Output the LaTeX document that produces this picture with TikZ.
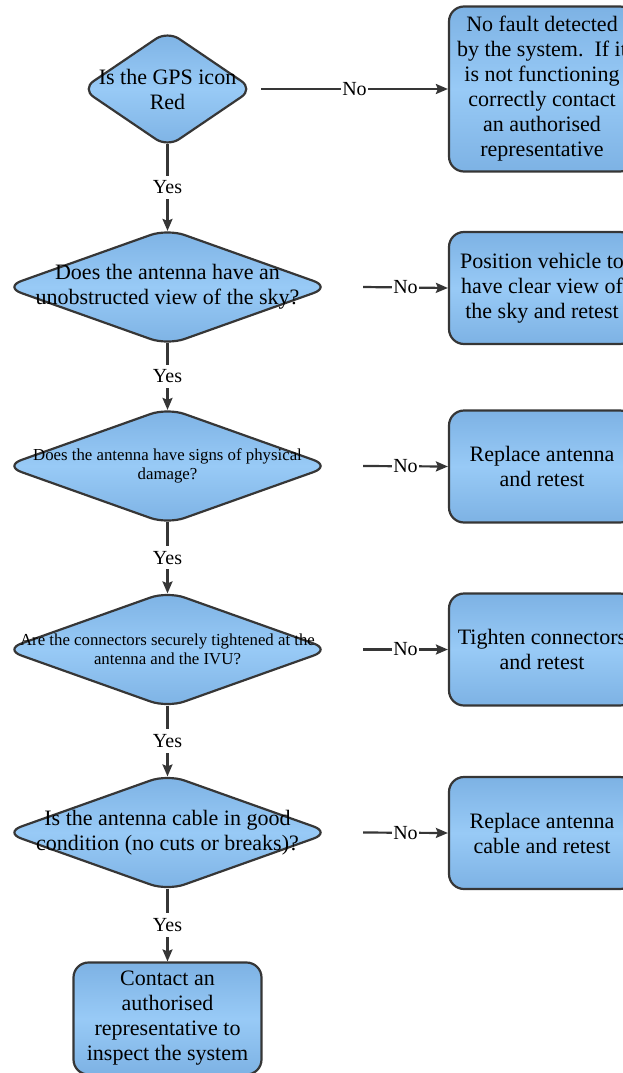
\documentclass[tikz,border=0pt]{standalone}
\usepackage{fontspec}
\setmainfont{Liberation Serif}
\usetikzlibrary{shapes.geometric,arrows.meta}
\definecolor{gpsedge}{HTML}{7DB2E4}
\definecolor{gpsmid}{HTML}{98CAF6}
\definecolor{gpsline}{HTML}{363636}
\begin{document}
\begin{tikzpicture}[
    x=1pt, y=-1pt,
    gps shape/.style={
        draw=gpsline,
        line width=2.2pt,
        top color=gpsedge,
        bottom color=gpsedge,
        middle color=gpsmid,
        inner sep=0pt
    },
    gps question/.style={
        gps shape,
        diamond,
        rounded corners=18pt,
        minimum width=327pt,
        minimum height=117pt
    },
    gps action/.style={
        gps shape,
        rounded corners=15pt,
        minimum width=186pt,
        minimum height=112pt,
        align=center,
        font=\fontsize{22}{25}\selectfont
    },
    gps text/.style={
        align=center,
        inner sep=0pt,
        font=\fontsize{22}{25}\selectfont
    },
    gps small/.style={
        gps text,
        font=\fontsize{16.8}{19}\selectfont
    },
    gps flow/.style={
        -{Stealth[length=12pt,width=10pt,inset=2pt]},
        line width=2.2pt,
        draw=gpsline
    },
    gps label/.style={
        fill=white,
        inner xsep=1.5pt,
        inner ysep=5pt,
        font=\fontsize{20}{24}\selectfont
    }
]
    \useasboundingbox (0,0) rectangle (623,1073);

    % Questions (diamonds)
    \node[gps question, rounded corners=14pt, minimum width=172pt, minimum height=117pt]
        (q1) at (167.5,89) {};
    \foreach \row/\ypos in {2/287,3/466,4/649.5,5/832.5}
        \node[gps question] (q\row) at (167.5,\ypos) {};

    \node[gps text] (q1 text) at (q1) {Is the GPS icon\\Red};
    \node[gps text] (q2 text) at (q2)
        {Does the antenna have an\\unobstructed view of the sky?};
    \node[gps small] (q3 text) at (q3)
        {Does the antenna have signs of physical\\damage?};
    \node[gps small] (q4 text) at (q4)
        {Are the connectors securely tightened at the\\antenna and the IVU?};
    \node[gps text] (q5 text) at (q5)
        {Is the antenna cable in good\\condition (no cuts or breaks)?};

    % Actions (rounded boxes)
    \node[gps action, minimum height=165pt] (a1) at (542,89)
        {No fault detected\\by the system.\ \ If it\\is not functioning\\correctly contact\\an authorised\\representative};
    \node[gps action] (a2) at (542,288)
        {Position vehicle to\\have clear view of\\the sky and retest};
    \node[gps action] (a3) at (542,466.5) {Replace antenna\\and retest};
    \node[gps action] (a4) at (542,649.5) {Tighten connectors\\and retest};
    \node[gps action] (a5) at (542,833) {Replace antenna\\cable and retest};
    \node[gps action, minimum width=188pt] (done) at (167.5,1018.5)
        {Contact an\\authorised\\representative to\\inspect the system};

    % Yes branch runs downwards (tips of the rounded diamonds)
    \draw[gps flow] ([yshift=4.5pt]q1.south) -- node[gps label] {Yes} ([yshift=-3.5pt]q2.north);
    \foreach \row/\next in {2/3,3/4,4/5}
        \draw[gps flow] ([yshift=3.5pt]q\row.south) -- node[gps label] {Yes}
            ([yshift=-3.5pt]q\next.north);
    \draw[gps flow] ([yshift=3.5pt]q5.south) -- node[gps label] {Yes} (done.north);

    % No branch runs to the right
    \draw[gps flow] ([xshift=6.5pt]q1.east) -- node[gps label] {No} (a1.west);
    \foreach \row in {2,...,5}
        \draw[gps flow] ([xshift=31pt]q\row.east) -- node[gps label] {No} (a\row.west);
\end{tikzpicture}
\end{document}
